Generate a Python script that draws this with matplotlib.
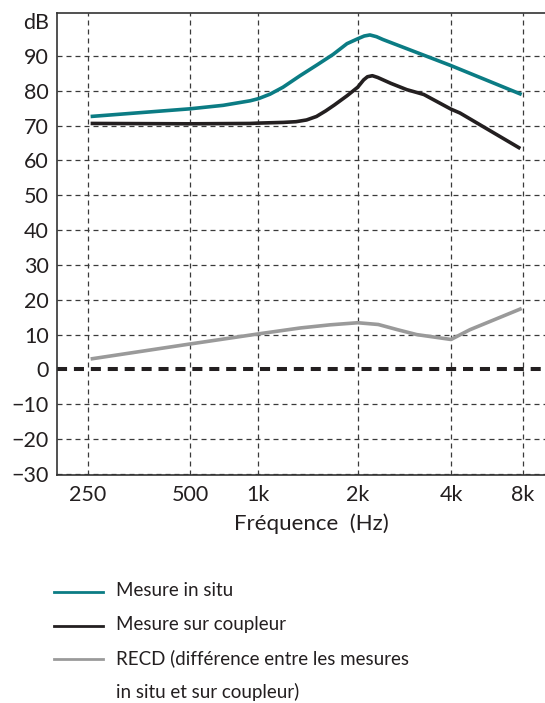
import numpy as np
import matplotlib
matplotlib.use("Agg")
import matplotlib.pyplot as plt
from matplotlib.lines import Line2D

plt.rcParams['font.family'] = ['Lato', 'DejaVu Sans']

# ---------------- data ----------------
freq_ticks = [250, 500, 1000, 2000, 4000, 8000]
freq_labels = ['250', '500', '1k', '2k', '4k', '8k']
db_ticks = [-30, -20, -10, 0, 10, 20, 30, 40, 50, 60, 70, 80, 90]
db_labels = ['\u221230', '\u221220', '\u221210', '0', '10', '20', '30', '40', '50', '60', '70', '80', '90']

insitu_f = [255, 500, 700, 920, 1000, 1085, 1188, 1338, 1506, 1684, 1856, 2000, 2100, 2190, 2300, 2410, 4000, 7900]
insitu_db = [72.6, 74.8, 75.8, 77.1, 77.7, 79.0, 81.0, 84.3, 87.4, 90.4, 93.5, 94.9, 95.7, 96.0, 95.5, 94.7, 87.2, 78.9]

coupleur_f = [255, 500, 920, 1000, 1190, 1300, 1400, 1500, 1600, 1700, 1860, 2000, 2090, 2150, 2230, 2320, 2560, 2880, 3100, 3270, 4000, 4360, 7800]
coupleur_db = [70.6, 70.5, 70.6, 70.7, 70.9, 71.1, 71.6, 72.6, 74.2, 75.9, 78.6, 81.0, 83.1, 84.0, 84.3, 83.8, 82.1, 80.3, 79.5, 78.9, 74.7, 73.6, 63.4]

recd_f = [255, 500, 1000, 1340, 1650, 2000, 2330, 2690, 3100, 4000, 4800, 7900]
recd_db = [3.0, 7.3, 10.2, 11.9, 12.8, 13.4, 12.9, 11.4, 10.0, 8.6, 11.4, 17.5]

legend_labels = ['Mesure in situ', 'Mesure sur coupleur',
                 'RECD (différence entre les mesures\nin situ et sur coupleur)']

TEAL = '#0b7c84'
BLACK = '#231f20'
GRAY = '#9a9a9a'

# ---------------- custom frequency scale (octave spacing as drawn) ----------------
oct_idx = [-3, 0, 1, 2, 3, 4, 5, 8]
oct_pos = [87.7 - 306, 87.7, 190.0, 258.3, 357.7, 451.0, 523.0, 523.0 + 216]


def fwd(f):
    f = np.maximum(np.asarray(f, dtype=float), 1e-9)
    return np.interp(np.log2(f / 250.0), oct_idx, oct_pos)


def inv(p):
    return 250.0 * 2 ** np.interp(np.asarray(p, dtype=float), oct_pos, oct_idx)


W, H = 545, 703
fig = plt.figure(figsize=(W / 100, H / 100), dpi=100)
ax = fig.add_axes([57 / W, 1 - 475 / H, (545 - 57) / W, (475 - 13) / H])

ax.set_xscale('function', functions=(fwd, inv))
ax.set_xlim(float(inv(57)), float(inv(545)))
ax.set_ylim(-30.3, 102.3)

grid_kw = dict(color='#3a3a3a', lw=0.9, ls=(0, (4.0, 3.2)), zorder=1)
for f in freq_ticks:
    ax.axvline(f, **grid_kw)
for d in db_ticks:
    if d != 0:
        ax.axhline(d, **grid_kw)
ax.axhline(0, color=BLACK, lw=2.9, ls=(0, (2.5, 1.7)), zorder=2)

line_kw = dict(lw=2.6, zorder=4, solid_capstyle='butt', solid_joinstyle='round')
ax.plot(insitu_f, insitu_db, color=TEAL, **line_kw)
ax.plot(coupleur_f, coupleur_db, color=BLACK, **line_kw)
ax.plot(recd_f, recd_db, color=GRAY, **line_kw)

ax.set_xticks(freq_ticks)
ax.set_xticklabels(freq_labels)
ax.xaxis.set_minor_locator(matplotlib.ticker.NullLocator())
ax.set_yticks(db_ticks + [100])
ax.set_yticklabels(db_labels + ['dB'])
ax.tick_params(axis='both', length=0, labelsize=15.5, colors='#231f20')
ax.tick_params(axis='y', pad=6)
ax.tick_params(axis='x', pad=7)

for s in ['left', 'bottom', 'top']:
    ax.spines[s].set_color('#333333')
    ax.spines[s].set_linewidth(1.2)
ax.spines['right'].set_visible(False)

ax.set_xlabel('Fréquence  (Hz)', fontsize=16, color='#231f20')
ax.xaxis.set_label_coords((311 - 57) / (545 - 57), -0.083)

# ---------------- legend (manual, below chart) ----------------
colors = [TEAL, BLACK, GRAY]
rows_y = [592, 626, 659]
for c, lab, yy in zip(colors, legend_labels, rows_y):
    fig.add_artist(Line2D([54 / W, 103 / W], [1 - yy / H, 1 - yy / H],
                          transform=fig.transFigure, color=c, lw=2.0))
    fig.text(116 / W, 1 - (yy - 10) / H, lab, fontsize=13.5, color='#231f20',
             va='top', ha='left', linespacing=2.05)

fig.savefig('out.png', dpi=100)
